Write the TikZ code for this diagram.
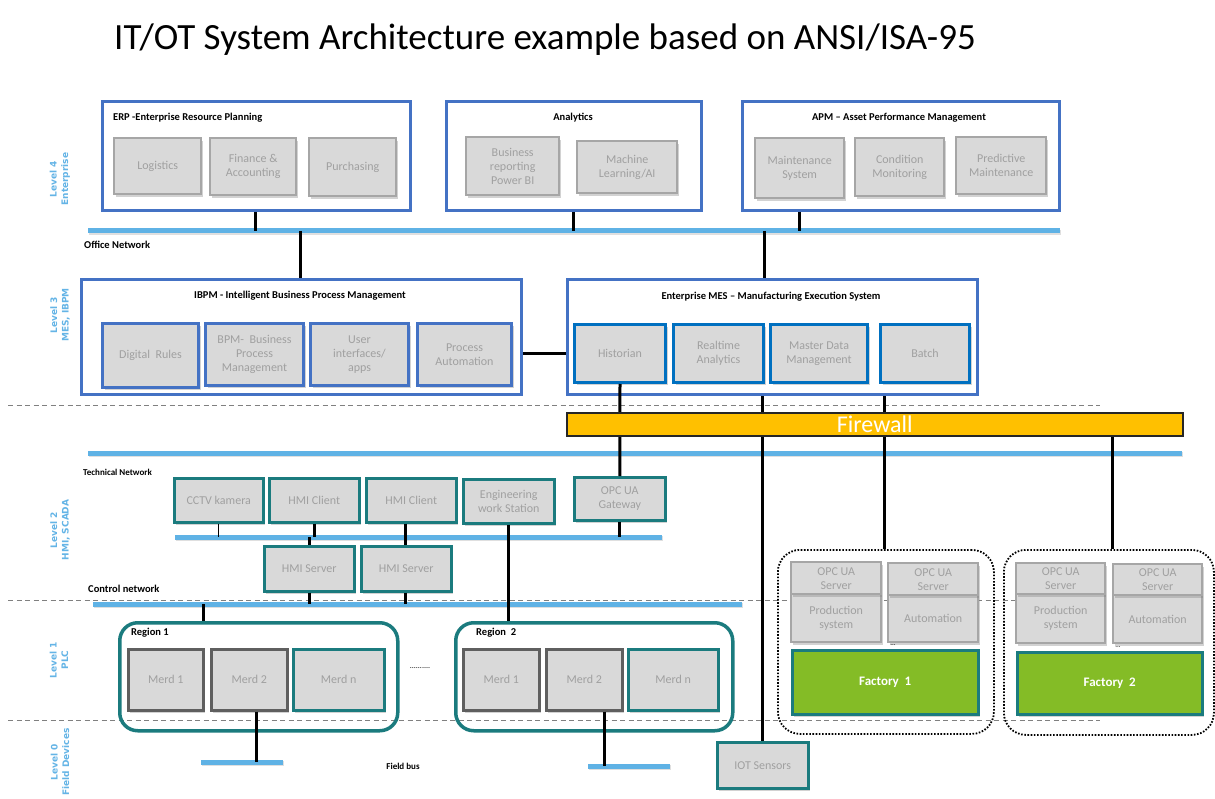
\documentclass[tikz,border=0pt]{standalone}
\usepackage{fontspec}
\setmainfont{Carlito}
\newfontfamily\lvlfont{DejaVu Sans}
\usetikzlibrary{shadows}
\pgfdeclarelayer{front}
\pgfsetlayers{main,front}

\definecolor{outerblue}{HTML}{4472C4}
\definecolor{innerblue}{HTML}{0070C0}
\definecolor{boxgray}{HTML}{D9D9D9}
\definecolor{edgegray}{HTML}{A6A6A6}
\definecolor{txtgray}{HTML}{A0A0A0}
\definecolor{tealedge}{HTML}{1B7B7E}
\definecolor{netblue}{HTML}{5FB2E5}
\definecolor{lvlblue}{HTML}{64B4E6}
\definecolor{fwyellow}{HTML}{FFC000}
\definecolor{factgreen}{HTML}{84BC26}
\definecolor{merdedge}{HTML}{5F5F5F}
\definecolor{dashgray}{HTML}{808080}

\newcommand\fsz[2]{\fontsize{#1}{#2}\selectfont}
% box from top-left (x1,y1) to bottom-right (x2,y2)
\newcommand\mkbox[7]{\node[#2,anchor=north west,minimum width={(#5)-(#3)},minimum height={(#6)-(#4)}] (#1) at (#3,#4) {#7};}

\tikzset{
  outer/.style={draw=outerblue,line width=3pt,fill=white,inner sep=0pt},
  gbase/.style={fill=boxgray,text=txtgray,align=center,inner sep=1pt,font=\fsz{12}{14},
    drop shadow={shadow xshift=2pt,shadow yshift=-2.5pt,opacity=.35}},
  gbox/.style={gbase,draw=edgegray,line width=2.4pt},
  ibox/.style={gbase,draw=outerblue,line width=3pt},
  mbox/.style={gbase,draw=innerblue,line width=3pt},
  tbox/.style={gbase,draw=tealedge,line width=2.5pt},
  dbox/.style={gbase,draw=merdedge,line width=2.5pt},
  net/.style={fill=netblue,inner sep=0pt,minimum height=5pt,anchor=west,
    drop shadow={shadow xshift=1pt,shadow yshift=-1.5pt,opacity=.25}},
  conn/.style={line width=3pt,black},
  thinconn/.style={line width=1.3pt,black},
  hdr/.style={font=\bfseries\fsz{10.5}{12},inner sep=0pt},
  netlbl/.style={font=\bfseries\fsz{10.5}{12},inner sep=0pt,anchor=west},
  lvl/.style={font=\lvlfont\bfseries\fsz{9}{11.5},text=lvlblue,align=center,rotate=90,inner sep=0pt},
  divider/.style={dashgray,dash pattern=on 5pt off 3.5pt,line width=1pt},
  region/.style={draw=tealedge,line width=3.5pt,rounded corners=18pt,inner sep=0pt},
  plant/.style={draw=black,line width=1.8pt,dash pattern=on 1.6pt off 1.6pt,rounded corners=22pt,inner sep=0pt},
  firewall/.style={fill=fwyellow,draw=black!85,line width=1.5pt,text=white,font=\fsz{24}{26},inner sep=0pt},
  factory/.style={fill=factgreen,draw=tealedge,line width=2.5pt,text=white,font=\bfseries\fsz{13}{15},inner sep=0pt,
    drop shadow={shadow xshift=2pt,shadow yshift=-2.5pt,opacity=.35}},
}

\begin{document}
\begin{tikzpicture}[x=1pt,y=-1pt]
\useasboundingbox (0,0) rectangle (1215,799);
\fill[white] (0,0) rectangle (1215,799);

% title
\node[font=\fsz{37}{40},anchor=base,inner sep=0pt] (title) at (545,50) {IT/OT System Architecture example based on ANSI/ISA-95};

% level dividers
\draw[divider] (8,405) -- (1100,405);
\draw[divider] (8,600) -- (1015,600);
\draw[divider] (8,720) -- (1100,720);

% level labels
\node[lvl] (l4) at (60,179) {Level 4\\Enterprise};
\node[lvl] (l3) at (60,315) {Level 3\\MES, IBPM};
\node[lvl] (l2) at (60,530) {Level 2\\HMI, SCADA};
\node[lvl] (l1) at (59,660) {Level 1\\PLC};
\node[lvl] (l0) at (60,762) {Level 0\\Field Devices};

% network buses
\node[net,minimum width=972pt] (office) at (88,231) {};
\node[net,minimum width=1094pt] (tech) at (88,453) {};
\node[net,minimum width=487pt] (bus2) at (175,537) {};
\node[net,minimum width=649pt] (control) at (93,604) {};
\node[net,minimum width=82pt] (fb1) at (201,762) {};
\node[net,minimum width=82pt] (fb2) at (588,766) {};

\node[netlbl] (officeT) at (84,245) {Office Network};
\node[netlbl,font=\bfseries\fsz{9}{11}] (techT) at (83,472) {Technical Network};
\node[netlbl] (controlT) at (88,589) {Control network};
\node[hdr,font=\bfseries\fsz{9}{11}] (fbT) at (403,766) {Field bus};

% level 4: enterprise systems
\mkbox{erp}{outer}{101}{100}{409}{209}{}
\node[hdr,anchor=west] (erpT) at (113,118) {ERP -Enterprise Resource Planning};
\mkbox{logi}{gbox}{113}{137}{200}{193}{Logistics}
\mkbox{fin}{gbox}{209}{137}{295}{194}{Finance \&\\Accounting}
\mkbox{purch}{gbox}{308}{137}{395}{195}{Purchasing}

\mkbox{ana}{outer}{445}{100}{700}{209}{}
\node[hdr] (anaT) at (573,118) {Analytics};
\mkbox{bi}{gbox}{465}{136}{558}{194}{Business\\reporting\\Power BI}
\mkbox{ml}{gbox}{576}{140}{676}{192}{Machine\\Learning/AI}

\mkbox{apm}{outer}{741}{100}{1058}{209}{}
\node[hdr] (apmT) at (899,118) {APM – Asset Performance Management};
\mkbox{maint}{gbox}{754}{137}{843}{197}{Maintenance\\System}
\mkbox{cond}{gbox}{854}{137}{943}{195}{Condition\\Monitoring}
\mkbox{pred}{gbox}{955}{136}{1045}{193}{Predictive\\Maintenance}

% level 3: IBPM and MES
\mkbox{ibpm}{outer}{80}{278}{520}{393}{}
\node[hdr] (ibpmT) at (300,296) {IBPM - Intelligent Business Process Management};
\mkbox{rules}{ibox}{101}{322}{197}{386}{Digital\ \ Rules}
\mkbox{bpm}{ibox}{204}{322}{302}{384}{BPM-\ \ Business\\Process\\Management}
\mkbox{ui}{ibox}{309}{322}{407}{384}{User\\interfaces/\\apps}
\mkbox{pa}{ibox}{416}{322}{510}{384}{Process\\Automation}

\mkbox{mes}{outer}{566}{278}{976}{393}{}
\node[hdr] (mesT) at (771,297) {Enterprise MES – Manufacturing Execution System};
\mkbox{hist}{mbox}{573}{323}{664}{381}{Historian}
\mkbox{rta}{mbox}{672}{323}{762}{381}{Realtime\\Analytics}
\mkbox{mdm}{mbox}{769}{323}{866}{381}{Master Data\\Management}
\mkbox{batch}{mbox}{879}{323}{968}{381}{Batch}

% firewall, kept on the front layer so the links pass beneath it
\begin{pgfonlayer}{front}
\mkbox{fw}{firewall}{566}{412}{1182}{435}{Firewall}
\end{pgfonlayer}

% level 2: HMI / SCADA
\mkbox{cctv}{tbox}{173}{477}{262}{521}{CCTV kamera}
\mkbox{hmic1}{tbox}{268}{477}{358}{521}{HMI Client}
\mkbox{hmic2}{tbox}{365}{477}{455}{521}{HMI Client}
\mkbox{ews}{tbox}{462}{478}{553}{522}{Engineering\\work Station}
\mkbox{gw}{tbox}{573}{476}{664}{519}{OPC UA\\Gateway}
\mkbox{hmis1}{tbox}{263}{545}{353}{590}{HMI Server}
\mkbox{hmis2}{tbox}{360}{545}{450}{590}{HMI Server}

% level 1: regions
\mkbox{reg1}{region}{118}{621}{396}{729}{}
\node[hdr,anchor=west] (reg1T) at (131,633) {Region 1};
\mkbox{r1m1}{dbox}{127}{648}{202}{709}{Merd 1}
\mkbox{r1m2}{dbox}{210}{648}{286}{709}{Merd 2}
\mkbox{r1mn}{tbox}{292}{648}{383}{709}{Merd n}

\mkbox{reg2}{region}{454}{621}{731}{729}{}
\node[hdr,anchor=west] (reg2T) at (476,633) {Region\ \ 2};
\mkbox{r2m1}{dbox}{462}{648}{538}{709}{Merd 1}
\mkbox{r2m2}{dbox}{545}{648}{621}{709}{Merd 2}
\mkbox{r2mn}{tbox}{627}{648}{717}{709}{Merd n}

\node[font=\fsz{8}{8},inner sep=0pt] (gap) at (420,668) {..........};

% IoT
\mkbox{iot}{tbox}{716}{741}{807}{787}{IOT Sensors}

% factories
\mkbox{plant1}{plant}{777}{549}{993}{733}{}
\mkbox{f1prod}{gbox}{790}{593}{880}{641}{Production\\system}
\mkbox{f1opc}{gbox}{790}{561}{880}{593}{OPC UA\\Server}
\mkbox{f1auto}{gbox}{887}{594}{977}{641}{Automation}
\mkbox{f1opc2}{gbox}{887}{562}{977}{594}{OPC UA\\Server}
\mkbox{fac1}{factory}{791}{649}{977}{713}{Factory\ \ 1}
\node[font=\fsz{7}{7},inner sep=0pt] (f1dots) at (893,645) {...};

\mkbox{plant2}{plant}{1003}{549}{1213}{734}{}
\mkbox{f2prod}{gbox}{1015}{593}{1104}{642}{Production\\system}
\mkbox{f2opc}{gbox}{1015}{562}{1104}{593}{OPC UA\\Server}
\mkbox{f2auto}{gbox}{1112}{594}{1201}{642}{Automation}
\mkbox{f2opc2}{gbox}{1112}{563}{1201}{594}{OPC UA\\Server}
\mkbox{fac2}{factory}{1016}{651}{1201}{713}{Factory\ \ 2}
\node[font=\fsz{7}{7},inner sep=0pt] (f2dots) at (1118,647) {...};

% drop points on the buses
\coordinate (xERP) at (255,0);
\coordinate (xANA) at (573,0);
\coordinate (xAPM) at (799,0);
\coordinate (xIB) at (300,0);
\coordinate (xMES) at (764,0);
\coordinate (xF1) at (884,0);
\coordinate (xF2) at (1112,0);
\coordinate (xHMI2) at (405,0);
\coordinate (xR1) at (203,0);
\coordinate (xFB1) at (256,0);
\coordinate (xFB2) at (604,0);

% connectors
\draw[conn] (erp.south -| xERP) -- (office -| xERP);
\draw[conn] (ana.south -| xANA) -- (office -| xANA);
\draw[conn] (apm.south -| xAPM) -- (office -| xAPM);
\draw[conn] (office -| xIB) -- (ibpm.north -| xIB);
\draw[conn] (office -| xMES) -- (mes.north -| xMES);
\draw[conn] (hist -| ibpm.east) -- (hist -| mes.west);
\draw[conn] (hist.south) -- (gw.north);
\draw[conn] (mes.south -| iot.north) -- (iot.north);
\draw[conn] (mes.south -| xF1) -- (plant1.north -| xF1);
\draw[conn] (fw.south -| xF2) -- (plant2.north -| xF2);

\draw[thinconn] (cctv.south) -- (cctv.south |- bus2);
\draw[conn] (hmic1.south) -- (hmic1.south |- bus2);
\draw[conn] (bus2 -| hmis1.north) -- (hmis1.north);
\draw[conn] (hmic2.south -| xHMI2) -- (bus2 -| xHMI2);
\draw[conn] (bus2 -| xHMI2) -- (hmis2.north -| xHMI2);
\draw[conn] (ews.south) -- (reg2.north -| ews.south);
\draw[conn] (gw.south) -- (gw.south |- bus2);
\draw[conn] (hmis1.south) -- (hmis1.south |- control);
\draw[conn] (hmis2.south -| xHMI2) -- (control -| xHMI2);
\draw[conn] (control -| xR1) -- (reg1.north -| xR1);
\draw[conn] (r1m2.south -| xFB1) -- (fb1 -| xFB1);
\draw[conn] (r2m2.south -| xFB2) -- (fb2 -| xFB2);
\end{tikzpicture}
\end{document}
